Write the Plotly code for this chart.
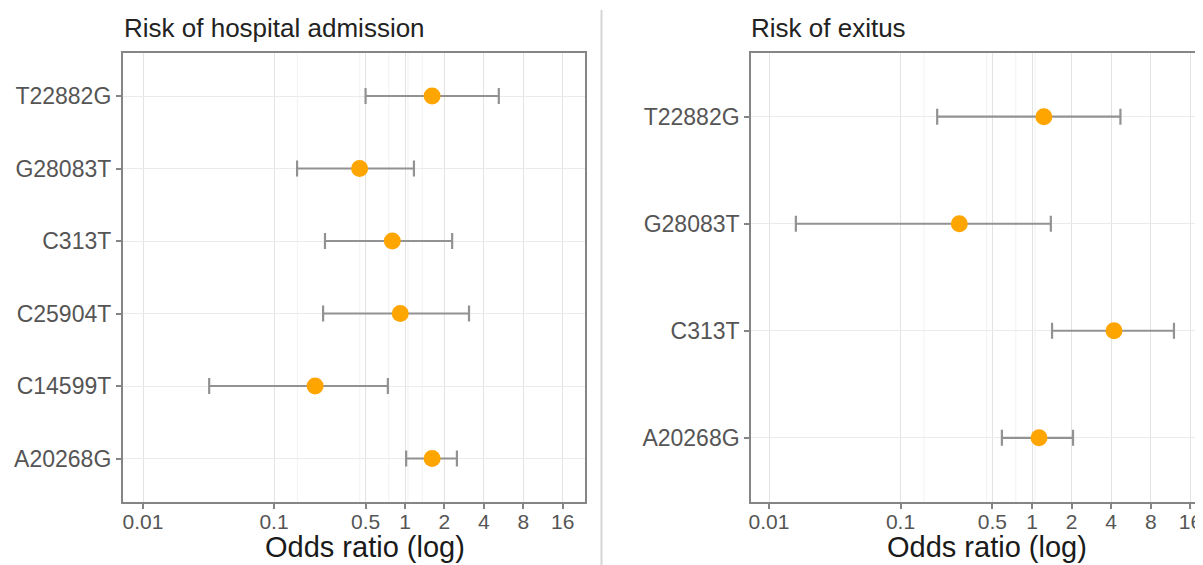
import math
import plotly.graph_objects as go

# ---- data ----
left_cats = ["T22882G", "G28083T", "C313T", "C25904T", "C14599T", "A20268G"]
left_or = [1.61, 0.45, 0.80, 0.92, 0.206, 1.61]
left_lo = [0.50, 0.15, 0.245, 0.237, 0.032, 1.02]
left_hi = [5.2, 1.17, 2.29, 3.08, 0.74, 2.49]

right_cats = ["T22882G", "G28083T", "C313T", "A20268G"]
right_or = [1.23, 0.28, 4.2, 1.13]
right_lo = [0.19, 0.016, 1.42, 0.59]
right_hi = [4.7, 1.39, 12.0, 2.05]

tick_vals = [0.01, 0.1, 0.5, 1, 2, 4, 8, 16]
tick_text = ["0.01", "0.1", "0.5", "1", "2", "4", "8", "16"]

titles = ["Risk of hospital admission", "Risk of exitus"]
x_title = "Odds ratio (log)"

# page has an 8px body margin: figure spans page pixels 8..1203 x 8..565
OFF = 8
W, H = 1203 - OFF, 565 - OFF


def px(X):
    return (X - OFF) / W


def py(Y):
    return (565 - Y) / H


FONT = "Liberation Sans, Arial, sans-serif"
ORANGE = "#FFA500"
ERR = "#929292"
AXIS = "#858585"
GRID = "#ebebeb"

fig = go.Figure()


def add_panel(cats, ors, los, his, xa, ya):
    fig.add_trace(go.Scatter(
        x=ors, y=cats, mode="markers",
        marker=dict(color=ORANGE, size=17, line=dict(width=0)),
        error_x=dict(type="data", symmetric=False,
                     array=[h - o for h, o in zip(his, ors)],
                     arrayminus=[o - l for o, l in zip(ors, los)],
                     color=ERR, thickness=2.2, width=8),
        xaxis=xa, yaxis=ya, showlegend=False, hoverinfo="skip"))


add_panel(left_cats, left_or, left_lo, left_hi, "x", "y")
add_panel(right_cats, right_or, right_lo, right_hi, "x2", "y2")

ydom = [py(502), py(52.5)]
x1dom = [px(122.7), px(585)]
x2dom = [px(751), 1.0]

common_x = dict(type="log", tickmode="array", tickvals=tick_vals, ticktext=tick_text,
                showgrid=True, gridcolor="#e3e3e3", gridwidth=1.2,
                showline=True, linecolor=AXIS, linewidth=1.6,
                ticks="outside", ticklen=5, tickcolor=AXIS, tickwidth=1.5,
                ticklabelstandoff=-5,
                tickfont=dict(family=FONT, size=21, color="#555555"),
                zeroline=False, automargin=False, fixedrange=True)
common_y = dict(type="category", showgrid=True, gridcolor=GRID, gridwidth=1.2,
                showline=True, linecolor=AXIS, linewidth=1.6,
                ticks="outside", ticklen=5, tickcolor=AXIS, tickwidth=1.5,
                tickfont=dict(family=FONT, size=23, color="#555555"),
                zeroline=False, automargin=False, fixedrange=True)

fig.update_layout(
    width=W, height=H,
    margin=dict(l=0, r=0, t=0, b=0),
    paper_bgcolor="white", plot_bgcolor="white",
    font=dict(family=FONT),
    xaxis=dict(domain=x1dom, range=[-2.155, 1.374], mirror=True, anchor="y", **common_x),
    yaxis=dict(domain=ydom, anchor="x", categoryorder="array",
               categoryarray=list(reversed(left_cats)),
               range=[-0.6, len(left_cats) - 0.4], mirror=True, **common_y),
    xaxis2=dict(domain=x2dom, range=[-2.137, 1.300], mirror=True, anchor="y2", **common_x),
    yaxis2=dict(domain=ydom, anchor="x2", categoryorder="array",
                categoryarray=list(reversed(right_cats)),
                range=[-0.6, len(right_cats) - 0.4], mirror=False, **common_y),
)

# minor gridlines (midpoints between major breaks on the log scale)
logs = [math.log10(v) for v in tick_vals]
minors = [(a + b) / 2 for a, b in zip(logs[:-1], logs[1:])] + [logs[-1] + (logs[-1] - logs[-2]) / 2]
shapes = []
for xr, yr, rng in (("x", "y", 1.374), ("x2", "y2", 1.300)):
    for m in minors:
        if m < rng:
            shapes.append(dict(type="line", xref=xr, yref=yr + " domain", x0=m, x1=m, y0=0, y1=1,
                               line=dict(color="#f2f2f2", width=1), layer="below"))
    shapes.append(dict(type="line", xref=xr, yref=yr + " domain", x0=math.log10(1), x1=math.log10(1),
                       y0=0, y1=1, line=dict(color="#555555", width=1.5, dash="5px,3px"),
                       layer="below"))
# separator between panels
shapes.append(dict(type="line", xref="paper", yref="paper", x0=px(601.5), x1=px(601.5),
                   y0=0, y1=py(10), line=dict(color="#d6d6d6", width=2)))
fig.update_layout(shapes=shapes)

annotations = [
    dict(text=titles[0], xref="paper", yref="paper", x=px(122), y=py(28),
         xanchor="left", yanchor="middle", showarrow=False,
         font=dict(family=FONT, size=26, color="#222222")),
    dict(text=titles[1], xref="paper", yref="paper", x=px(749), y=py(28),
         xanchor="left", yanchor="middle", showarrow=False,
         font=dict(family=FONT, size=26, color="#222222")),
    dict(text=x_title, xref="paper", yref="paper", x=px(365), y=py(547),
         xanchor="center", yanchor="middle", showarrow=False,
         font=dict(family=FONT, size=29, color="#1a1a1a")),
    dict(text=x_title, xref="paper", yref="paper", x=px(987), y=py(547),
         xanchor="center", yanchor="middle", showarrow=False,
         font=dict(family=FONT, size=29, color="#1a1a1a")),
]
fig.update_layout(annotations=annotations)

fig.write_html("out.html")
